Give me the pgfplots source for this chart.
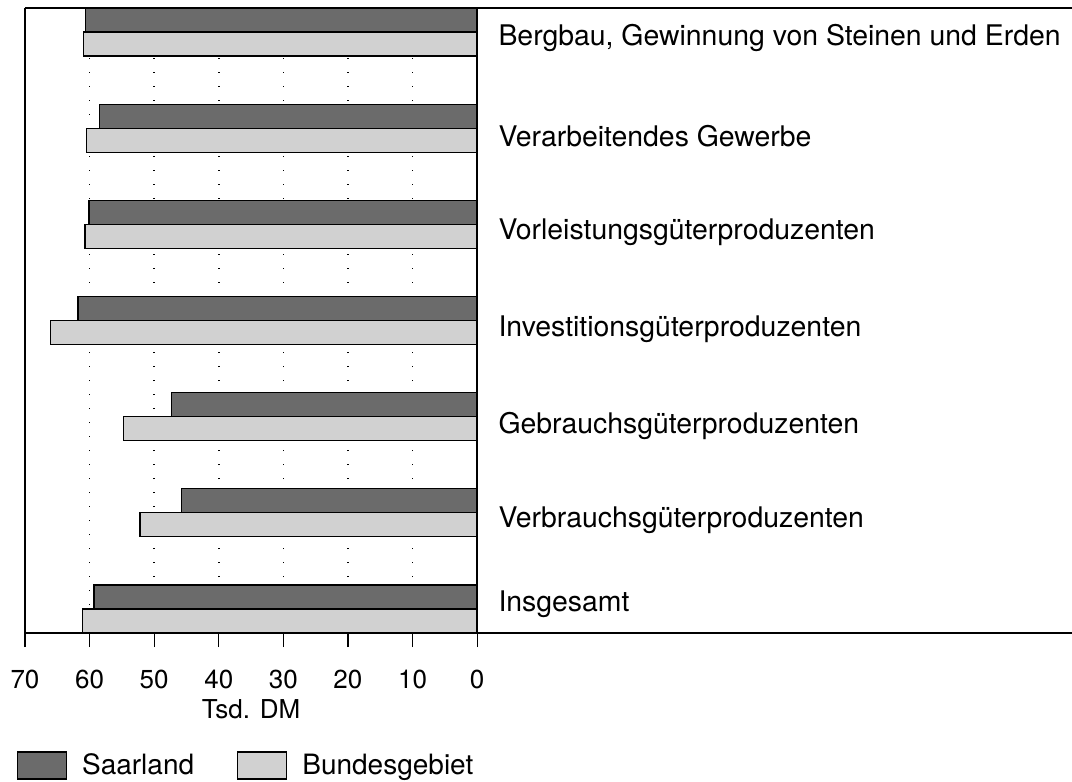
\documentclass[border=0pt]{standalone}
\usepackage{pgfplots}
\pgfplotsset{compat=1.18}
\usepackage{fontspec}
\setmainfont{TeX Gyre Heros}
\definecolor{saar}{gray}{0.42}
\definecolor{bund}{gray}{0.82}
\tikzset{catlab/.style={anchor=base west, font=\fontsize{14.2}{16}\selectfont, inner sep=0pt, xshift=10.5pt}}
\begin{document}
\begin{tikzpicture}
\useasboundingbox (-12.5pt,-74.5pt) rectangle (523.5pt,316.5pt);
\begin{axis}[
  scale only axis, width=523.5pt, height=312.5pt,
  x dir=reverse, xmin=-92.1, xmax=70, ymin=-0.25, ymax=6.25,
  xtick={0,10,...,70}, ytick=\empty,
  xtick pos=bottom, tick align=outside, major tick length=7pt,
  tick style={black, line width=0.6pt},
  xticklabel style={font=\fontsize{13}{15}\selectfont, yshift=-8pt},
  /pgf/number format/assume math mode=true,
  axis line style={draw=none},
  xmajorgrids=true,
  major grid style={black, line width=0.8pt, dash pattern=on 0.6pt off 6.4pt},
  clip=false,
  bar width=12pt,
  legend columns=2,
  legend style={at={(-0.0081,-0.2120)}, anchor=west, draw=none, fill=none,
    inner sep=0pt, font=\fontsize{14}{16}\selectfont,
    /tikz/every odd column/.append style={column sep=5.5pt},
    /tikz/every even column/.append style={column sep=19.5pt}},
  legend image code/.code={\draw[#1, line width=0.6pt] (0pt,-6.75pt) rectangle (24.5pt,6.75pt);},
]
\addplot[xbar, bar shift=6pt, fill=saar, draw=black, line width=0.6pt]
  coordinates {(60.6,6) (58.5,5) (60.1,4) (61.8,3) (47.3,2) (45.8,1) (59.3,0)};
\addlegendentry{Saarland}
\addplot[xbar, bar shift=-6pt, fill=bund, draw=black, line width=0.6pt]
  coordinates {(61.0,6) (60.5,5) (60.7,4) (66.0,3) (54.7,2) (52.2,1) (61.1,0)};
\addlegendentry{Bundesgebiet}
% frame
\draw[black, line width=0.7pt] (axis cs:70,6.25) -- (axis cs:-92.1,6.25);
\draw[black, line width=0.7pt] (axis cs:70,-0.25) -- (axis cs:-92.1,-0.25);
\draw[black, line width=0.7pt] (axis cs:70,-0.25) -- (axis cs:70,6.25);
\draw[black, line width=0.7pt] (axis cs:0,-0.25) -- (axis cs:0,6.25);
% category labels
\node[catlab, yshift=-6.75pt] at (axis cs:0,6) {Bergbau, Gewinnung von Steinen und Erden};
\node[catlab, yshift=-9pt] at (axis cs:0,5) {Verarbeitendes Gewerbe};
\node[catlab, yshift=-7.75pt] at (axis cs:0,4) {Vorleistungsgüterproduzenten};
\node[catlab, yshift=-8pt] at (axis cs:0,3) {Investitionsgüterproduzenten};
\node[catlab, yshift=-8.5pt] at (axis cs:0,2) {Gebrauchsgüterproduzenten};
\node[catlab, yshift=-7.5pt] at (axis cs:0,1) {Verbrauchsgüterproduzenten};
\node[catlab, yshift=-1.5pt] at (axis cs:0,0) {Insgesamt};
\node[font=\fontsize{13}{15}\selectfont, anchor=base, inner sep=0pt] at (axis cs:35,-0.25) [yshift=-42.8pt] {Tsd. DM};
\end{axis}
\end{tikzpicture}
\end{document}
